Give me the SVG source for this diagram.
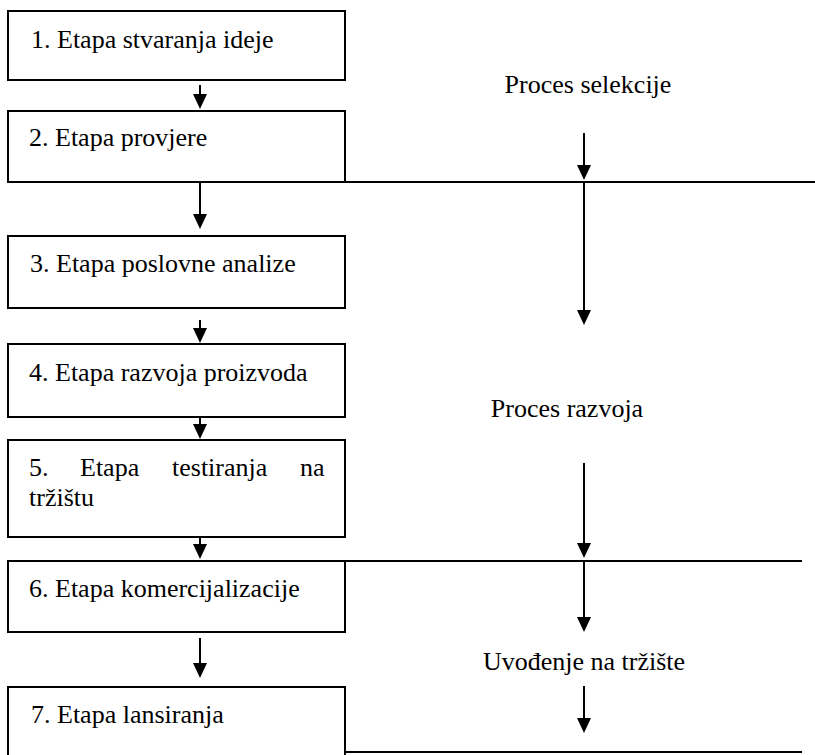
<svg xmlns="http://www.w3.org/2000/svg" width="815" height="755" viewBox="0 0 815 755">
<defs>
<style>
.box{fill:#fff;stroke:#000;stroke-width:2}
.t{font-family:'Liberation Serif','Times New Roman',Times,serif;font-size:26px;fill:#000}
.c{stroke:#000;stroke-width:2;fill:none}
.a{stroke:#000;stroke-width:2;fill:none;marker-end:url(#ah)}
</style>
<marker id="ah" markerUnits="userSpaceOnUse" viewBox="0 0 15 14" markerWidth="15" markerHeight="14" refX="13" refY="7" orient="auto">
<path d="M0,0 L15,7 L0,14 Z" fill="#000"/>
</marker>
</defs>
<rect width="815" height="755" fill="#fff"/>
<g id="connectors">
<line class="c" x1="345" y1="182" x2="815" y2="182"/>
<line class="c" x1="345" y1="561" x2="802" y2="561"/>
<line class="c" x1="345" y1="752" x2="802" y2="752"/>
<line class="a" x1="200" y1="85" x2="200" y2="107"/>
<line class="a" x1="200" y1="182" x2="200" y2="227"/>
<line class="a" x1="200" y1="320" x2="200" y2="341"/>
<line class="a" x1="200" y1="417" x2="200" y2="437"/>
<line class="a" x1="200" y1="536" x2="200" y2="557"/>
<line class="a" x1="200" y1="638" x2="200" y2="676"/>
<line class="a" x1="584" y1="133" x2="584" y2="178"/>
<line class="a" x1="584" y1="182" x2="584" y2="323"/>
<line class="a" x1="584" y1="463" x2="584" y2="556"/>
<line class="a" x1="584" y1="561" x2="584" y2="630"/>
<line class="a" x1="584" y1="686" x2="584" y2="731"/>
</g>
<g font-family="Liberation Serif, serif" font-size="26">
<g id="n1"><rect class="box" x="8" y="11" width="337" height="69"/><text class="t" x="31" y="48">1. Etapa stvaranja ideje</text></g>
<g id="n2"><rect class="box" x="8" y="111" width="337" height="71"/><text class="t" x="29" y="146">2. Etapa provjere</text></g>
<g id="n3"><rect class="box" x="8" y="236" width="337" height="72"/><text class="t" x="30" y="272">3. Etapa poslovne analize</text></g>
<g id="n4"><rect class="box" x="8" y="344" width="337" height="73"/><text class="t" x="29" y="381">4. Etapa razvoja proizvoda</text></g>
<g id="n5"><rect class="box" x="8" y="440" width="337" height="97"/><text class="t" y="476"><tspan x="29">5.</tspan><tspan x="80">Etapa</tspan><tspan x="172">testiranja</tspan><tspan x="300">na</tspan><tspan x="29" y="506">tržištu</tspan></text></g>
<g id="n6"><rect class="box" x="8" y="561" width="337" height="71"/><text class="t" x="29" y="597">6. Etapa komercijalizacije</text></g>
<g id="n7"><rect class="box" x="8" y="687" width="337" height="80"/><text class="t" x="31" y="723">7. Etapa lansiranja</text></g>
<g id="labels">
<text class="t" x="588" y="93" text-anchor="middle">Proces selekcije</text>
<text class="t" x="567" y="417" text-anchor="middle">Proces razvoja</text>
<text class="t" x="584" y="670" text-anchor="middle">Uvođenje na tržište</text>
</g>
</g>
</svg>
